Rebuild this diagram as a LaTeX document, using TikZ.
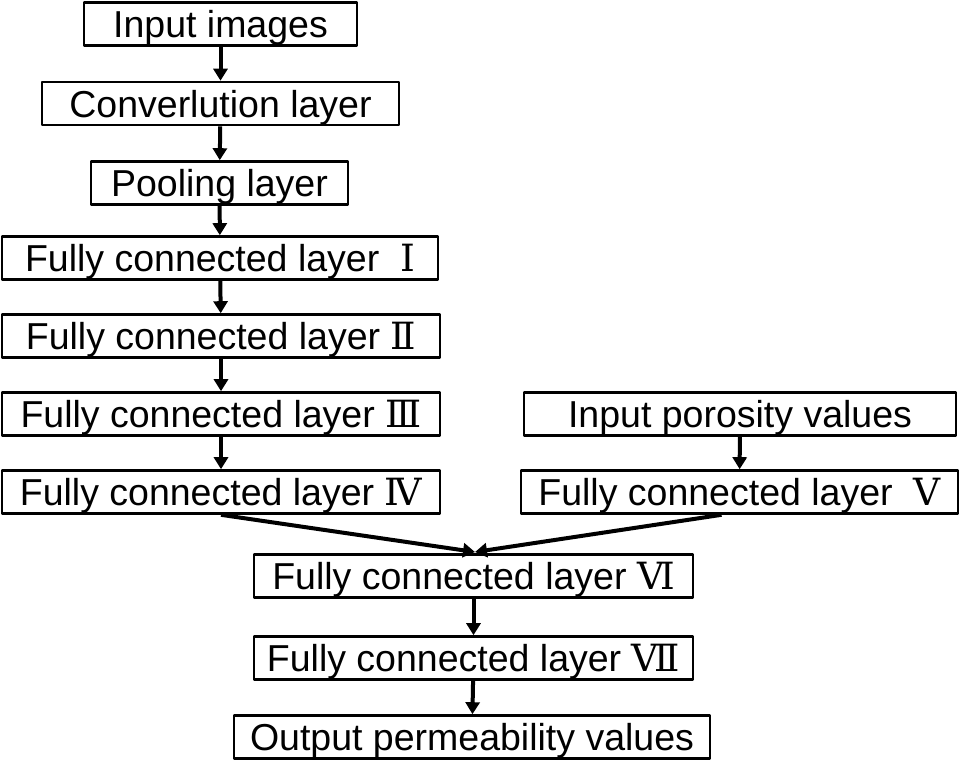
\documentclass[tikz,border=0pt]{standalone}
\usepackage{fontspec}
\setmainfont{Liberation Sans}
\newfontfamily\romanfont{DejaVu Serif}
\usetikzlibrary{arrows.meta}
\newcommand{\rnum}[1]{{\romanfont #1}}
\begin{document}
\begin{tikzpicture}[x=1pt,y=1pt,>={Triangle[length=12,width=14]},line join=round,
	box/.style={draw,line width=2.6,inner sep=0,minimum height=43,text height=27pt,text depth=0pt,font=\fontsize{37.5}{40}\selectfont},
	flow/.style={->,line width=4}]
	\useasboundingbox (0,0) rectangle (960,-761);
	\node[box,minimum width=273] (img) at (220.5,-24) {Input images};
	\node[box,minimum width=357] (conv) at (220.5,-103.5) {Converlution layer};
	\node[box,minimum width=257] (pool) at (219.5,-183) {Pooling layer};
	\node[box,minimum width=436] (fcA) at (220,-258) {Fully connected layer \ \rnum{Ⅰ}};
	\node[box,minimum width=438] (fcB) at (221,-336) {Fully connected layer \rnum{Ⅱ}};
	\node[box,minimum width=438] (fcC) at (221,-414) {Fully connected layer \rnum{Ⅲ}};
	\node[box,minimum width=438] (fcD) at (221,-492) {Fully connected layer \rnum{Ⅳ}};
	\node[box,minimum width=432] (poro) at (740,-414) {Input porosity values};
	\node[box,minimum width=437] (fcE) at (739.5,-492) {Fully connected layer \ \rnum{Ⅴ}};
	\node[box,minimum width=439] (fcF) at (473.5,-576) {Fully connected layer \rnum{Ⅵ}};
	\node[box,minimum width=439] (fcG) at (473.5,-658) {Fully connected layer \rnum{Ⅶ}};
	\node[box,minimum width=476] (out) at (472,-737) {Output permeability values};
	\foreach \a/\b in {img/conv,conv/pool,pool/fcA,fcA/fcB,fcB/fcC,fcC/fcD,poro/fcE,fcF/fcG,fcG/out}
	\draw[flow] (\a) -- (\b);
	\coordinate (join) at (475,-552);
	\draw[flow] (fcD.south) -- (join);
	\draw[flow] ([xshift=-18]fcE.south) -- (join);
\end{tikzpicture}
\end{document}
